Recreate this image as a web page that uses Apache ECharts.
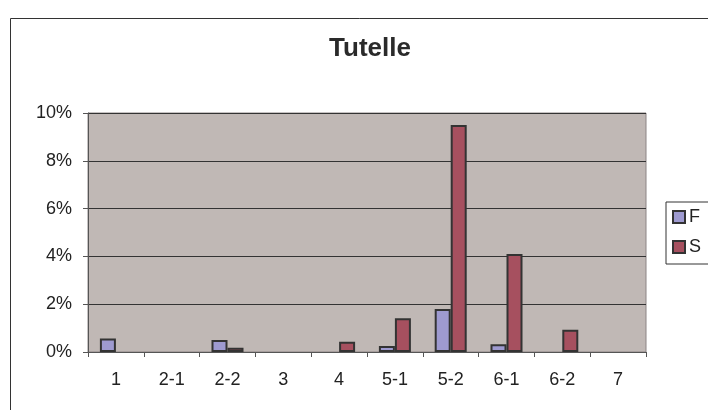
<!DOCTYPE html>
<html>
<head>
<meta charset="utf-8">
<script src="https://cdn.jsdelivr.net/npm/echarts@6/dist/echarts.min.js"></script>
<style>
  html, body { margin: 0; padding: 0; background: #fff; }
  #main { width: 708px; height: 410px; }
</style>
</head>
<body>
<div id="main"></div>
<script>
// categories and values (percent)
var categories = ['1', '2-1', '2-2', '3', '4', '5-1', '5-2', '6-1', '6-2', '7'];
var valuesF = [0.56, 0, 0.5, 0, 0, 0.25, 1.8, 0.32, 0, 0];
var valuesS = [0, 0, 0.18, 0, 0.43, 1.41, 9.5, 4.1, 0.93, 0];
var yTicks = { min: 0, max: 10, interval: 2 };

var fontFam = '"Liberation Sans", Arial, sans-serif';

// zero bars are not drawn in the original (no outline)
function toItems(arr) {
    return arr.map(function (v) {
        return v === 0 ? { value: 0, itemStyle: { borderWidth: 0 } } : v;
    });
}

var chart = echarts.init(document.getElementById('main'));
chart.setOption({
    animation: false,
    backgroundColor: '#fff',
    title: {
        text: 'Tutelle',
        left: 365,
        textAlign: 'center',
        top: 31,
        textStyle: { color: '#2a2a2a', fontSize: 26, fontWeight: 'bold', fontFamily: fontFam }
    },
    graphic: [{
        type: 'rect',
        shape: { x: 10.5, y: 18.5, width: 720, height: 420 },
        style: { fill: 'none', stroke: '#333', lineWidth: 1 },
        silent: true
    }],
    legend: {
        orient: 'vertical',
        left: 666,
        top: 202,
        padding: [6, 30, 8, 6],
        itemGap: 12,
        itemWidth: 12,
        itemHeight: 12,
        borderColor: '#333',
        borderWidth: 1,
        icon: 'rect',
        itemStyle: { borderColor: '#333', borderWidth: 2 },
        textStyle: { color: '#222', fontSize: 18, fontFamily: fontFam, lineHeight: 18, padding: [0, 0, 0, -1] },
        data: ['F', 'S']
    },
    grid: {
        left: 88,
        top: 113,
        right: 62,
        bottom: 58,
        show: true,
        backgroundColor: '#c0b8b5',
        borderColor: '#8c8484',
        borderWidth: 1
    },
    xAxis: {
        type: 'category',
        data: categories,
        axisLine: { lineStyle: { color: '#555', width: 1 } },
        axisTick: { show: true, length: 5, lineStyle: { color: '#555' } },
        axisLabel: { color: '#222', fontSize: 18, fontFamily: fontFam, margin: 19 }
    },
    yAxis: {
        type: 'value',
        min: yTicks.min,
        max: yTicks.max,
        interval: yTicks.interval,
        axisLine: { show: true, lineStyle: { color: '#555', width: 1 } },
        axisTick: { show: true, length: 5, lineStyle: { color: '#555' } },
        axisLabel: { color: '#222', fontSize: 18, fontFamily: fontFam, margin: 16, formatter: '{value}%' },
        splitLine: { show: true, lineStyle: { color: '#333', width: 1 } }
    },
    series: [
        {
            name: 'F',
            type: 'bar',
            data: toItems(valuesF),
            barWidth: 16,
            barGap: '0%',
            itemStyle: { color: '#9e9ad0', borderColor: '#333', borderWidth: 2 }
        },
        {
            name: 'S',
            type: 'bar',
            data: toItems(valuesS),
            barWidth: 16,
            barGap: '0%',
            itemStyle: { color: '#a6505f', borderColor: '#333', borderWidth: 2 }
        }
    ]
});
</script>
</body>
</html>
